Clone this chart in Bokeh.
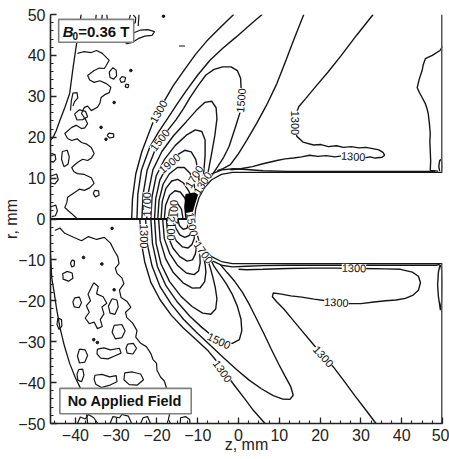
import math
from bokeh.plotting import figure
from bokeh.models import Range1d, Label, LabelSet, ColumnDataSource, BoxAnnotation, FixedTicker
from bokeh.core.properties import value
from bokeh.embed import file_html
from bokeh.resources import INLINE

# ---------------- data (z, r in mm) ----------------
x_major_ticks = [-40, -30, -20, -10, 0, 10, 20, 30, 40, 50]
y_major_ticks = [-50, -40, -30, -20, -10, 0, 10, 20, 30, 40, 50]

# upper half (B0 = 0.36 T) temperature contours
upper_contours = [
    [(-26.2,0),(-26,5),(-25.2,11),(-23.7,16.5),(-20.8,24.1),(-18.4,28.5),(-16,32.6),(-13.2,36.6),(-10.5,40.3),(-7.8,43.5),(-4.8,46.5),(-1.2,50)],
    [(-24.9,0),(-24.7,6),(-23.8,12),(-21.8,17.5),(-19.6,21.3),(-17.7,24.1),(-15.2,27.9),(-12.8,31.4),(-10,35.2),(-7,38.8),(-3.8,41.8),(-0.7,44.4),(3.4,48),(5.8,50)],
    [(-23.7,0),(-23.4,6),(-22.4,12),(-20.3,17.3),(-17.5,21.5),(-15.3,24.3),(-13.5,27),(-11.9,29.7),(-9.8,32.8),(-8,35.2),(-6,36.6),(-3.9,37.2),(-1.8,37.2),(-0.3,36.3),(0.5,34.4),(0.7,30.5),(0.5,26.5),(-0.6,23),(-2.3,17.8),(-3.8,14.8),(-5.4,12.4),(-6.9,10.1)],
    [(-22.5,0),(-22.2,6),(-21,12),(-18.8,16.5),(-16,20.3),(-12.8,23.8),(-10.4,26.5),(-8.3,28.5),(-6.6,28.8),(-5.5,27.2),(-5.3,24.5),(-5.8,20.5),(-6.6,16),(-7.3,12.3),(-8,9)],
    [(-21.5,0),(-21.2,5.5),(-20.2,10.5),(-18.2,14.5),(-15.5,18),(-12.8,20.5),(-10.6,21.8),(-9,21.4),(-8.2,19.3),(-8.2,15.5),(-8.5,11.8),(-8.85,8)],
    [(-20.6,0),(-20.3,5),(-19.3,9.5),(-17.6,12.8),(-15.3,15.5),(-13.2,16.8),(-11.6,16.4),(-10.5,14.6),(-9.9,11.8),(-9.6,8.6),(-9.6,6.7)],
    [(-19.8,0),(-19.5,4.5),(-18.5,8.5),(-17,11),(-15,12.6),(-13.3,12.6),(-11.9,11.2),(-11,8.8),(-10.5,6.8),(-10.25,5.45)],
    [(-19.0,0),(-18.7,4.3),(-17.8,7.5),(-16.4,9.3),(-14.9,9.7),(-13.5,8.8),(-12.3,7),(-11.4,5.2),(-10.8,3.9)],
    [(-18.2,0),(-17.9,3.3),(-16.9,5.8),(-15.6,6.9),(-14.3,6.6),(-13.2,5.2),(-12.5,3.3),(-12.2,1.5),(-12.1,0)],
    [(-17.2,0),(-16.9,2.2),(-15.9,3.7),(-14.8,3.6),(-14,2.4),(-13.6,0)],
]

# lower half (no applied field) temperature contours
lower_contours = [
    [(-24.2,0),(-23.9,-5.3),(-23,-10.5),(-21.5,-15.5),(-19.2,-19.8),(-16.5,-23.5),(-13.6,-26.6),(-10.5,-29.4),(-7.4,-32.3),(-5.1,-35.1),(-2.8,-38.3),(-1,-40.7),(1.4,-43.8),(3.4,-46.5),(6.5,-50)],
    [(-22.8,0),(-22.4,-6),(-21.2,-11.5),(-19.2,-16.6),(-16.5,-20.8),(-13.5,-24.5),(-10.4,-27.6),(-6.8,-31),(-3.6,-34),(-0.5,-36.8),(2.6,-39.4),(5.6,-41.5),(8.5,-43.2),(10.7,-44),(12.6,-44.1),(13.4,-43.1),(12.8,-41),(11.4,-38.4),(9.8,-35.4),(8,-31.8),(6.2,-28),(4.4,-24.4),(2.8,-21.2),(1,-18),(-0.9,-15.3),(-2.8,-13.1),(-4.5,-11.1)],
    [(-21.5,0),(-21.1,-6),(-19.9,-11.6),(-17.8,-16.3),(-15,-20.3),(-12,-23.7),(-9,-26.5),(-6.2,-28.8),(-3.6,-30.2),(-1.5,-30.4),(0.2,-29.5),(0.8,-27.3),(0.6,-24.5),(-0.3,-21.3),(-1.6,-18.3),(-3.1,-15.7),(-4.7,-13.4),(-6,-11.6),(-6.9,-9.7)],
    [(-20.6,0),(-20.2,-6),(-19,-11),(-16.9,-15.3),(-14.2,-18.8),(-11.4,-21.4),(-8.8,-23),(-6.8,-23.3),(-5.6,-22),(-5.3,-19.5),(-5.7,-16.8),(-6.3,-14.2),(-6.9,-12),(-7.5,-10.2),(-8,-8.7)],
    [(-19.6,0),(-19.2,-5.3),(-17.9,-9.7),(-16,-13.1),(-13.6,-15.6),(-11.3,-16.9),(-9.4,-16.8),(-8.3,-15.3),(-8,-13),(-8.2,-11),(-8.6,-9.3),(-8.95,-7.7)],
    [(-18.6,0),(-18.2,-4.8),(-16.9,-8.4),(-15,-11.3),(-12.8,-13.2),(-10.9,-13.6),(-9.8,-12.7),(-9.4,-10.8),(-9.5,-8.5),(-9.8,-6.3)],
    [(-17.7,0),(-17.3,-4.2),(-16.1,-7.1),(-14.4,-9.2),(-12.6,-10.3),(-11.3,-10),(-10.6,-8.6),(-10.3,-6.8),(-10.3,-5.3)],
    [(-16.8,0),(-16.4,-2.9),(-15.3,-5.3),(-13.8,-6.8),(-12.4,-7.1),(-11.4,-6.2),(-10.9,-4.9),(-10.8,-3.9)],
    [(-15.8,0),(-15.4,-2.2),(-14.4,-3.9),(-13.2,-4.5),(-12.2,-4.1),(-11.6,-3.2),(-11.2,-2.4)],
    [(-14.9,0),(-14.5,-1.6),(-13.6,-2.5),(-12.7,-2.3),(-12.2,-1.2),(-12.1,0)],
]

# contours downstream of the nose, along the electrode
body_side_contours = [
    [(16,50),(13.8,44.5),(11.7,39),(9.4,33.1),(6.8,27.7),(4.4,23.3),(2,19.2),(-0.2,15.7),(-2,13.3),(-3.8,12.3),(-5.2,11.8)],
    [(33,50),(29,45),(25.2,40),(22,36),(19.1,32.6),(16.5,29.5),(14.8,27.5),(13.9,25.2),(13.7,22.5),(14.3,20.2),(15.8,18.8),(18.4,18.1),(20.2,18.2),(22,17.7),(24,17.9),(25.7,17.5),(27.6,17.7),(29.5,17.4),(31.2,17.5),(32.9,17.2),(34.4,16.9),(35.4,16.3),(35.8,15.6),(35.2,15.1),(33.5,14.9),(32.2,15.2),(31.2,15),(29.5,15.3),(28,15.1),(25.7,15.5),(23.6,15.2),(21.5,15.5),(19.4,15.3),(17.4,15.6),(15.5,15.2),(13.5,14.9),(11.4,14.7),(9.4,14.3),(6,13.5),(3.4,12.8),(0.5,12.3),(-2,12)],
    [(50,42.2),(49.4,41.2),(47.5,40),(45.8,39.2),(45.3,37.8),(45,36.3),(44.3,34.2),(43.8,32.1),(44.4,30.8),(45,29.7),(45.8,28.2),(46.2,27),(46.5,25.8),(46.8,23.2),(47,20.9),(46.9,18.8),(47,16.7),(47.1,14.2),(47,11.9),(48.9,11.7)],
    [(49.3,11.7),(49.1,12.8),(49.3,14.3),(49.7,14.6),(49.9,13),(49.8,11.7)],
    [(-9.4,8.4),(-8.2,9.8),(-6.4,11.1),(-4.1,12.0),(-1.3,12.3),(2,12.1),(6,11.8),(12,11.65),(25,11.6),(40,11.6),(48.2,11.6)],
    [(-9.6,-7.0),(-8.3,-8.6),(-6.5,-10.2),(-4.2,-11.3),(-1.5,-11.7),(2,-11.55),(6,-11.4),(12,-11.3),(25,-11.3),(40,-11.3),(48.5,-11.3),(49.3,-11.1)],
    [(33.7,-50),(31.2,-46.7),(28.5,-43.2),(25.8,-39.5),(23.2,-36.1),(20.8,-33.6),(18.2,-30.5),(15.5,-27.3),(13,-24.3),(11.1,-22),(9.4,-20.3),(8.3,-19),(8.5,-18.1),(10.2,-18.3),(12.8,-18.8),(15.5,-19.1),(18.5,-19.6),(21.5,-20),(24,-20.4),(27,-20.7),(30,-20.7),(33.2,-20.3),(36.1,-20),(38.6,-19.8),(40.9,-19.4),(42.8,-18.6),(44.1,-17.4),(44.6,-15.6),(44.1,-14),(42.6,-13),(39.7,-12.3),(36,-12.2),(30,-12.1),(24,-12),(18,-12),(12,-12.1),(6,-12.3),(2,-12.4),(0,-12.3)],
    [(49.4,-11.2),(49.0,-13),(48.8,-16),(49.0,-19),(49.5,-22.3),(49.8,-20),(49.9,-16),(49.8,-12.5),(49.6,-11.2)],
]

electrode_outline = [(50,11.4),(-1.5,11.4),(-4.2,10.9),(-6.6,9.6),(-8.4,7.6),(-9.7,5.2),(-10.5,2.5),(-10.8,0),
                     (-10.5,-2.5),(-9.8,-5),(-8.5,-7.3),(-6.6,-9.2),(-4.2,-10.4),(-1.5,-10.9),(50,-10.9)]

dense_wedge = [(-13.0,0.4),(-11.7,0.4),(-10.9,3.2),(-10.1,5.8),(-9.6,6.6),(-12.9,6.0),(-13.2,3.0)]

shock_lines = [
    [(-38.6,50),(-39.1,46.5),(-39.7,42.9),(-40.5,37.5),(-41.4,30.7),(-42.6,27.2),(-43.8,24.1),(-44.7,21.6),(-45.5,19.9),(-46.1,19.3)],
    [(-46.1,-8.8),(-46,-10.5),(-45.8,-14.3),(-45.2,-18),(-44.6,-22),(-43.8,-26.5),(-42.7,-31),(-41.4,-35.3),(-40,-38.8),(-38.5,-41.9),(-37.7,-45),(-37.2,-48),(-37,-50)],
]

noise_upper = [
    [(-39.5,40.5),(-38,40.9),(-36.1,40.7),(-34.8,41.2),(-33.4,40.5),(-31.7,38.8),(-32.4,37.6),(-32.9,36.8),(-34.1,36.9),(-35.4,36.3),(-37,35.1),(-36.5,34),(-35.4,33.4),(-34,33.8),(-32.4,33.1),(-31.3,32.2),(-31.7,30.9),(-32.8,30.4),(-33.7,29.7),(-34,28.3),(-34.6,27.3),(-36.1,26.5),(-37,27.6),(-37.8,27.3),(-38.5,25.8),(-37.6,24.5),(-37,23.3),(-37.7,22.3),(-38.5,22.1),(-39.8,22.9),(-40.9,22.4),(-42.6,20.9),(-41.9,19.7),(-40.9,19.2),(-39.6,19.6),(-38.5,18.7),(-37.2,18.3),(-36.1,17.5),(-35.4,16),(-36,15),(-37,14.3),(-38.2,14.6),(-39.5,13.8),(-40.9,12.6),(-40.4,11.6),(-39.5,11.1),(-37.8,10.9),(-36.1,10.1),(-35.4,8.7),(-36.5,7.6),(-37.8,7),(-39,7.3),(-40.2,6.5),(-41.9,5.3),(-42.1,4),(-42.6,2.8),(-41.6,1.9),(-40.9,1.3),(-39.5,0)],
    [(-30.8,37),(-30,36.4),(-29.9,35),(-30.6,34.2),(-31.5,34.6),(-31.7,35.9),(-30.8,37)],
    [(-28.6,34.8),(-27.7,34.6),(-27.9,33.6),(-28.8,33.4),(-29.1,34.2),(-28.6,34.8)],
    [(-27.6,33),(-26.9,32.8),(-27.1,32.1),(-27.8,32.3),(-27.6,33)],
    [(-41.2,26.5),(-41.0,28.8),(-40.6,30.8),(-39.6,30.9),(-39.4,29.6),(-40.2,28.7),(-40.6,27.6)],
    [(-40.2,25.7),(-39,26.7),(-37.5,26.3),(-37,25),(-38.2,24.3),(-39.6,24.2),(-40.2,25.7)],
    [(-31.8,21),(-30.6,20.8),(-30.6,20),(-31.6,19.8),(-32.2,20.4),(-31.8,21)],
    [(-43.2,16.5),(-42,16.8),(-41.5,15.2),(-41.8,13.4),(-42.8,12.8),(-43.4,14.6),(-43.2,16.5)],
    [(-35.3,7),(-34.3,6.9),(-34.2,5.8),(-35.1,5.4),(-35.6,6.2),(-35.3,7)],
    [(-28.5,46),(-27,45.9),(-25.5,45.6),(-24,46.2),(-22.2,46.3),(-20.6,45.8),(-21.2,44.9),(-23,44.7),(-24.6,44.1),(-26,43.2),(-27.4,42.9),(-28.4,43.6),(-28.5,46)],
    [(-26.5,49.9),(-26.9,48.6),(-26.2,47.6),(-25.3,48),(-25.2,49.2),(-25.8,49.9)],
    [(-24.6,47.2),(-24.4,50)],
    [(-34.9,50),(-35.1,47.6)],
    [(-33.4,50),(-33.7,46.8)],
    [(-32.3,50),(-32.1,48.2)],
    [(-14.6,42.3),(-13.1,42.3)],
    [(-46,15.5),(-45,15.8),(-44.8,14.6),(-45.4,13.9),(-46,14)],
    [(-46,10.5),(-44.6,11),(-44.2,9.6),(-45,8.6),(-46,8.8)],
    [(-46,3),(-44.8,3.4),(-44.4,2),(-44.9,0.8),(-45.8,0.6)],
]

noise_lower = [
    [(-45,-2.8),(-43.8,-2.2),(-42.6,-3.5),(-40.6,-4.4),(-38.5,-5.3),(-36.8,-4.3),(-34.8,-5),(-32.9,-4.5),(-31.4,-5.9),(-30.5,-7.7),(-29.6,-9.2),(-29.3,-10.9),(-30.2,-12),(-29.8,-13.3),(-28.6,-14.4),(-28.1,-15.8),(-29.2,-17.4),(-28.8,-19.2),(-27.3,-20.2),(-26.4,-21.6),(-27.7,-22.8),(-27.4,-24.1),(-26,-25.4),(-24.9,-27.3),(-25.2,-28.9),(-24,-30.4),(-22.6,-31.2),(-21.5,-32.9),(-21,-34.3),(-20.1,-35.3),(-20,-37),(-19.1,-38.7),(-18.2,-39.6),(-17.7,-41.2),(-18.3,-42.6),(-17.4,-44.3),(-17.8,-46),(-16.9,-47.7),(-17.2,-49),(-16.7,-50)],
    [(-42,-12.8),(-40.8,-13.2),(-40.6,-14.5),(-41.7,-15.2),(-43,-14.7),(-43.1,-13.4),(-42,-12.8)],
    [(-40.8,-10.0),(-40.2,-10.3),(-40.3,-11.5),(-40.9,-11.7),(-41.2,-10.8),(-40.8,-10.0)],
    [(-35.5,-15.6),(-34.4,-16.5),(-34.8,-18.3),(-33.2,-19),(-32.3,-20.6),(-33.5,-21.5),(-33,-23.2),(-33.9,-24.6),(-33.4,-26.3),(-34.6,-26.8),(-35.4,-25.2),(-36.6,-25.6),(-37.6,-24.2),(-36.6,-22.8),(-37.3,-21.2),(-36.3,-20),(-36.9,-18.4),(-36.2,-17),(-35.5,-15.6)],
    [(-31,-19.5),(-29.8,-19.8),(-29.5,-21.5),(-30.3,-23.3),(-31.5,-23),(-31.9,-21.3),(-31,-19.5)],
    [(-30.5,-26),(-28.6,-25.8),(-27.8,-27.4),(-28.6,-29),(-30.2,-29.3),(-31,-27.7),(-30.5,-26)],
    [(-39,-31.8),(-37.6,-32),(-37,-33.4),(-37.7,-35),(-39,-35.2),(-39.5,-33.5),(-39,-31.8)],
    [(-34.6,-31.8),(-33,-31.5),(-31.4,-32),(-29.2,-31.6),(-28.8,-32.8),(-30.4,-33.5),(-32,-34.2),(-33.8,-34),(-34.7,-33),(-34.6,-31.8)],
    [(-27.2,-30.6),(-25.8,-30.4),(-25,-31.6),(-25.9,-33),(-27.3,-32.8),(-27.6,-31.6),(-27.2,-30.6)],
    [(-39.2,-36.8),(-38.2,-36.7),(-37.9,-38.2),(-38.5,-39.8),(-39.4,-39.4),(-39.6,-38),(-39.2,-36.8)],
    [(-35.2,-38.2),(-33.5,-38),(-31.6,-38.6),(-30,-38.3),(-29.8,-39.8),(-31.5,-40.6),(-33.6,-41.2),(-35,-40.4),(-35.4,-39.2),(-35.2,-38.2)],
    [(-27.9,-37.6),(-26,-37.4),(-24,-37.9),(-23.3,-39.3),(-24.8,-40.6),(-26.8,-40.5),(-28.1,-39.3),(-27.9,-37.6)],
    [(-40.2,-19.3),(-39,-19.1),(-38.5,-20.5),(-39.1,-21.7),(-40.3,-21.5),(-40.6,-20.3),(-40.2,-19.3)],
    [(-44.3,-24.2),(-43.4,-24.6),(-43.3,-26.2),(-44,-27),(-44.5,-25.8),(-44.3,-24.2)],
    [(-39.5,-50),(-38.8,-48.4),(-37.6,-48.9),(-36.8,-47.8),(-35.5,-48.6),(-34.5,-50)],
    [(-31.5,-50),(-30.8,-48.3),(-29.2,-48.6),(-28.6,-47.8),(-27,-48.2),(-26.2,-50)],
    [(-24,-50),(-23.4,-48.6),(-22.3,-48.3),(-21.6,-50)],
    [(-14.3,-50),(-14.2,-48.6),(-13,-48.3),(-12,-49),(-11.9,-50)],
]

noise_dots_z = [-18.4, -26.4, -30.5, -33.7, -32.5, -31.0, -38.0, -35.5, -30.5, -33.5, -34.6]
noise_dots_r = [49.6, 36.3, 28.5, 22.4, 19.5, -2.3, -9.4, -29.5, -17.3, -11.0, -30.2]

label_text  = ["1300", "1500", "1900", "1700", "1700", "1300", "2100", "1500", "1300", "1300",
               "1300", "2100", "1500", "1700", "1500", "1300", "1300", "1300", "1300"]
label_z     = [-19.6, -19.3, -16.9, -22.4, -10.9, -8.8, -15.9, 0.6, 13.8, 28.1,
               -23.3, -16.5, -11.4, -8.6, -4.8, -3.9, 20.8, 24.0, 28.3]
label_r     = [26.3, 19.3, 13.6, 3.6, 10.3, 8.8, 1.7, 29.0, 23.5, 15.3,
               -4.2, -2.3, -1.3, -8.2, -29.8, -37.2, -33.6, -20.4, -12.0]
label_angle = [60, 52, 40, 90, 58, 58, 90, 85, -90, -4,
               -90, -90, -80, -55, -25, -55, -48, -3, -1]

x_title = "z, mm"
y_title = "r, mm"

# ---------------- figure ----------------
p = figure(width=449, height=459, x_range=Range1d(-46.1, 50), y_range=Range1d(-50, 50),
           output_backend="svg", toolbar_location=None,
           min_border_left=46, min_border_right=7, min_border_top=14, min_border_bottom=36)
p.grid.visible = False
p.outline_line_color = None
p.background_fill_color = "white"
p.border_fill_color = "white"

p.xaxis.ticker = FixedTicker(ticks=x_major_ticks, minor_ticks=[v * 2.5 for v in range(-18, 21)])
p.yaxis.ticker = FixedTicker(ticks=y_major_ticks, minor_ticks=[v * 2 for v in range(-25, 26)])
for ax in (p.xaxis[0], p.yaxis[0]):
    ax.axis_line_width = 1.6
    ax.axis_line_color = "#222222"
    ax.major_tick_in = 6
    ax.major_tick_out = 0
    ax.minor_tick_in = 3
    ax.minor_tick_out = 0
    ax.major_tick_line_color = "#222222"
    ax.minor_tick_line_color = "#222222"
    ax.major_tick_line_width = 1.3
    ax.minor_tick_line_width = 1.1
    ax.major_label_text_font = "Liberation Sans"
    ax.major_label_text_font_size = "16px"
    ax.major_label_text_color = "#222222"
    ax.major_label_standoff = 5
    ax.axis_label_text_font = "Liberation Sans"
    ax.axis_label_text_font_size = "16px"
    ax.axis_label_text_font_style = "normal"
    ax.axis_label_text_color = "#222222"

p.xaxis.axis_label = x_title
p.xaxis.axis_label_standoff = -8
p.yaxis.axis_label = y_title
p.yaxis.axis_label_standoff = -5


def xs_ys(lines):
    return [[pt[0] for pt in ln] for ln in lines], [[pt[1] for pt in ln] for ln in lines]


LC = "#151515"
for group, lw in ((upper_contours, 1.4), (lower_contours, 1.4), (body_side_contours, 1.4),
                  (shock_lines, 1.3), (noise_upper, 1.2), (noise_lower, 1.2)):
    xs, ys = xs_ys(group)
    p.multi_line(xs, ys, line_color=LC, line_width=lw)

p.patch([pt[0] for pt in dense_wedge], [pt[1] for pt in dense_wedge], fill_color="#000000", line_color="#000000")
p.line([pt[0] for pt in electrode_outline], [pt[1] for pt in electrode_outline], line_color=LC, line_width=1.3)
p.scatter(noise_dots_z, noise_dots_r, size=2.6, color=LC)

# symmetry axis and right frame pieces
p.line([-46.1, -12.4], [0, 0], line_color="#111111", line_width=2.2)
p.segment(x0=[50, 50], y0=[11.4, -50], x1=[50, 50], y1=[50, -10.9], line_color="#555555", line_width=3)

# contour labels
src = ColumnDataSource(dict(z=label_z, r=label_r, t=label_text, a=label_angle))
p.add_layout(LabelSet(x="z", y="r", text="t", angle="a", angle_units="deg", source=src,
                      text_font=value("Liberation Sans"), text_font_size="11px", text_color="#111111",
                      text_align="center", text_baseline="middle", background_fill_color="white"))

# boxed annotations
p.add_layout(BoxAnnotation(left=-44.1, right=-25.7, bottom=43.2, top=48.8, fill_color="white", fill_alpha=1.0,
                           line_color="#808080", line_width=1.6, line_alpha=1.0))
p.add_layout(BoxAnnotation(left=-43.8, right=-11.6, bottom=-47.6, top=-41.4, fill_color="white", fill_alpha=1.0,
                           line_color="#808080", line_width=1.6, line_alpha=1.0))
p.add_layout(Label(x=-43.1, y=45.8, text="B", text_font="Liberation Sans", text_font_style="bold italic",
                   text_font_size="15px", text_baseline="middle", text_align="left", text_color="#111111"))
p.add_layout(Label(x=-40.7, y=44.7, text="0", text_font="Liberation Sans", text_font_style="bold",
                   text_font_size="10px", text_baseline="middle", text_align="left", text_color="#111111"))
p.add_layout(Label(x=-39.3, y=45.8, text="=0.36 T", text_font="Liberation Sans", text_font_style="bold",
                   text_font_size="15px", text_baseline="middle", text_align="left", text_color="#111111"))
p.add_layout(Label(x=-41.9, y=-44.6, text="No Applied Field", text_font="Liberation Sans", text_font_style="bold",
                   text_font_size="14.5px", text_baseline="middle", text_align="left", text_color="#111111"))

open("out.html", "w").write(file_html(p, INLINE))
